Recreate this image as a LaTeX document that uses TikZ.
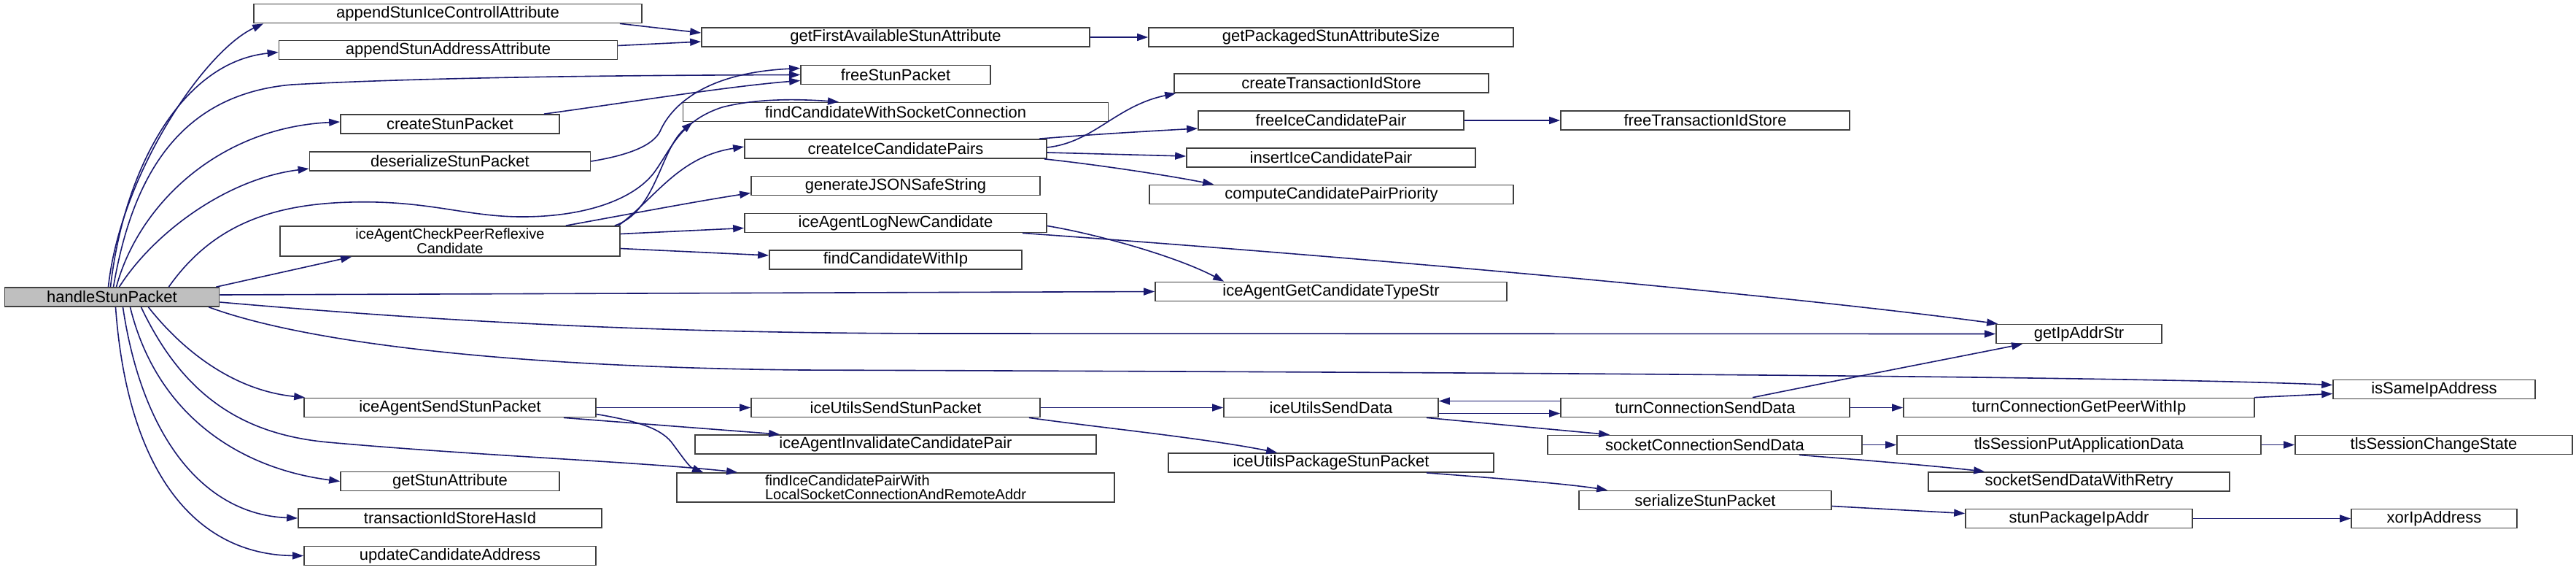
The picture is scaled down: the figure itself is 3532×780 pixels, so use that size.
\documentclass[tikz,border=0pt]{standalone}
\usepackage{fontspec}
\setmainfont{Liberation Sans}
\usetikzlibrary{arrows.meta,calc}
\definecolor{edgeblue}{HTML}{191970}
\definecolor{boxgray}{HTML}{404040}
\definecolor{mainfill}{HTML}{BFBFBF}
\begin{document}
\begin{tikzpicture}[x=1pt,y=-1pt,
  fn/.style={draw=boxgray, line width=1.7pt, fill=white, inner sep=0pt,
    minimum height=26pt, font=\fontsize{22pt}{19.5pt}\selectfont},
  fntwo/.style={fn, font=\fontsize{20pt}{19.5pt}\selectfont},
  call/.style={draw=edgeblue, line width=1.6pt, -{Triangle[length=15pt,width=10pt]}}]
\fill[white] (0,0) rectangle (3532,780);
\useasboundingbox (0,0) rectangle (3532,780);
% column 1
\node[fn,minimum width=294pt,fill=mainfill] (main) at (153.5,407) {handleStunPacket};
% column 2
\node[fn,minimum width=532pt] (appIce) at (614,18.5) {appendStunIceControllAttribute};
\node[fn,minimum width=464pt] (appAddr) at (614.5,68.5) {appendStunAddressAttribute};
\node[fn,minimum width=300pt] (createPkt) at (617,170) {createStunPacket};
\node[fn,minimum width=385pt] (deser) at (617,221) {deserializeStunPacket};
\node[fntwo,minimum width=466pt,minimum height=41pt,align=center] (checkRefl) at (617,330.5) {iceAgentCheckPeerReflexive\\Candidate};
\node[fn,minimum width=400pt] (sendPkt) at (617,558.5) {iceAgentSendStunPacket};
\node[fn,minimum width=300pt] (getAttr) at (617,659.5) {getStunAttribute};
\node[fn,minimum width=416pt] (txHas) at (617,710) {transactionIdStoreHasId};
\node[fn,minimum width=400pt] (updAddr) at (617,761.5) {updateCandidateAddress};
% column 3
\node[fn,minimum width=532pt] (getFirst) at (1228,51) {getFirstAvailableStunAttribute};
\node[fn,minimum width=260pt] (freePkt) at (1228,102.5) {freeStunPacket};
\node[fn,minimum width=583pt] (findSock) at (1228,153.5) {findCandidateWithSocketConnection};
\node[fn,minimum width=414pt] (createPair) at (1228,204) {createIceCandidatePairs};
\node[fn,minimum width=396pt] (genJson) at (1228,254.5) {generateJSONSafeString};
\node[fn,minimum width=414pt] (logNew) at (1228,305.5) {iceAgentLogNewCandidate};
\node[fn,minimum width=346pt] (findIp) at (1228,356) {findCandidateWithIp};
\node[fn,minimum width=396pt] (utilSend) at (1228,558.5) {iceUtilsSendStunPacket};
\node[fn,minimum width=550pt] (invalidate) at (1228,609) {iceAgentInvalidateCandidatePair};
\node[fntwo,minimum width=600pt,minimum height=40pt,align=left] (findPair) at (1228,668) {findIceCandidatePairWith\\LocalSocketConnectionAndRemoteAddr};
% column 4
\node[fn,minimum width=500pt] (getPkgSize) at (1825,51) {getPackagedStunAttributeSize};
\node[fn,minimum width=431pt] (createTx) at (1825.5,114) {createTransactionIdStore};
\node[fn,minimum width=364pt] (freePair) at (1825,165) {freeIceCandidatePair};
\node[fn,minimum width=396pt] (insertPair) at (1825,216) {insertIceCandidatePair};
\node[fn,minimum width=499pt] (computePrio) at (1825.5,266.5) {computeCandidatePairPriority};
\node[fn,minimum width=482pt] (getTypeStr) at (1825,399.5) {iceAgentGetCandidateTypeStr};
\node[fn,minimum width=294pt] (utilData) at (1825,558.5) {iceUtilsSendData};
\node[fn,minimum width=446pt] (utilPkg) at (1825,634) {iceUtilsPackageStunPacket};
% column 5
\node[fn,minimum width=396pt] (freeTx) at (2338,165) {freeTransactionIdStore};
\node[fn,minimum width=396pt] (turnSend) at (2338,558.5) {turnConnectionSendData};
\node[fn,minimum width=431pt] (sockSend) at (2337.5,609.5) {socketConnectionSendData};
\node[fn,minimum width=346pt] (serialize) at (2338,685.5) {serializeStunPacket};
% column 6
\node[fn,minimum width=227pt] (getIpStr) at (2850.5,457.5) {getIpAddrStr};
\node[fn,minimum width=481pt] (turnPeer) at (2850.5,558.5) {turnConnectionGetPeerWithIp};
\node[fn,minimum width=499pt] (tlsPut) at (2850.5,609.5) {tlsSessionPutApplicationData};
\node[fn,minimum width=413pt] (sockRetry) at (2850.5,660) {socketSendDataWithRetry};
\node[fn,minimum width=311pt] (stunPkgIp) at (2850.5,710.5) {stunPackageIpAddr};
% column 7
\node[fn,minimum width=277pt] (isSame) at (3337.5,533.5) {isSameIpAddress};
\node[fn,minimum width=380pt] (tlsChange) at (3337,609.5) {tlsSessionChangeState};
\node[fn,minimum width=227pt] (xorIp) at (3337.5,710.5) {xorIpAddress};

% edges from main
\draw[call] ($(main.north)+(-5,0)$) .. controls (165,240) and (280,70) .. ($(appIce.south west)+(14,0)$);
\draw[call] ($(main.north)+(-2,0)$) .. controls (170,230) and (250,85) .. ($(appAddr.west)+(0,3)$);
\draw[call] ($(main.north)+(2,0)$) .. controls (180,250) and (240,130) .. (400,116) .. controls (600,105) and (900,103) .. (freePkt.west);
\draw[call] ($(main.north)+(6,0)$) .. controls (190,280) and (300,175) .. ($(createPkt.west)+(0,-3)$);
\draw[call] ($(main.north)+(10,0)$) .. controls (210,320) and (310,245) .. ($(deser.west)+(0,10)$);
\draw[call] ($(main.north east)+(-70,0)$) .. controls (290,310) and (370,280) .. (480,277)
   .. controls (590,274) and (640,298) .. (721,297) .. controls (810,296) and (875,270) .. (900,232)
   .. controls (922,200) and (935,165) .. (990,147) .. controls (1040,134) and (1100,136) .. ($(findSock.north)+(-78,0)$);
\draw[call] ($(main.north east)+(-5,0)$) -- ($(checkRefl.south west)+(99,0)$);
\draw[call] ($(main.east)+(0,-3)$) -- (getTypeStr.west);
\draw[call] ($(main.east)+(0,7)$) .. controls (600,440) and (900,457) .. (1300,457) -- (getIpStr.west);
\draw[call] ($(main.south east)+(-15,0)$) .. controls (420,470) and (700,503) .. (1100,507)
   .. controls (2000,510) and (2900,515) .. ($(isSame.west)+(0,-6)$);
\draw[call] ($(main.south)+(50,0)$) .. controls (250,480) and (320,535) .. ($(sendPkt.north west)+(2,0)$);
\draw[call] ($(main.south)+(40,0)$) .. controls (250,540) and (330,595) .. (450,606)
   .. controls (650,624) and (880,633) .. ($(findPair.north west)+(84,0)$);
\draw[call] ($(main.south)+(25,0)$) .. controls (215,570) and (330,642) .. (getAttr.west);
\draw[call] ($(main.south)+(15,0)$) .. controls (195,600) and (280,705) .. (txHas.west);
\draw[call] ($(main.south)+(5,0)$) .. controls (175,650) and (270,760) .. (updAddr.west);
% column 2 edges
\draw[call] ($(appIce.south east)+(-31,0)$) -- ($(getFirst.west)+(0,-6)$);
\draw[call] ($(appAddr.east)+(0,-6)$) -- ($(getFirst.west)+(0,6)$);
\draw[call] (getFirst.east) -- (getPkgSize.west);
\draw[call] ($(createPkt.north east)+(-22,0)$) .. controls (850,142) and (1000,118) .. ($(freePkt.west)+(0,8)$);
\draw[call] (deser.east) .. controls (860,213) and (895,200) .. (905,180) .. controls (918,150) and (960,100) .. ($(freePkt.west)+(0,-9)$);
\draw[call] ($(checkRefl.north east)+(-8,0)$) .. controls (900,290) and (905,205) .. ($(findSock.south west)+(14,0)$);
\draw[call] ($(checkRefl.north east)+(-3,0)$) .. controls (900,270) and (930,215) .. ($(createPair.west)+(0,-3)$);
\draw[call] ($(checkRefl.north east)+(-75,0)$) .. controls (870,292) and (960,275) .. ($(genJson.west)+(0,10)$);
\draw[call] ($(checkRefl.east)+(0,-10)$) -- ($(logNew.west)+(0,7)$);
\draw[call] ($(checkRefl.east)+(0,10)$) -- ($(findIp.west)+(0,-6)$);
\draw[call] (sendPkt.east) -- (utilSend.west);
\draw[call] ($(sendPkt.south east)+(-45,0)$) -- ($(invalidate.north west)+(117,0)$);
\draw[call] ($(sendPkt.east)+(0,9)$) .. controls (880,578) and (905,588) .. (920,605) .. controls (935,625) and (945,640) .. ($(findPair.north west)+(37,0)$);
% column 3 edges
\draw[call] ($(createPair.east)+(0,-2)$) .. controls (1500,195) and (1530,145) .. ($(createTx.south west)+(3,0)$);
\draw[call] ($(createPair.north east)+(-11,0)$) .. controls (1500,184) and (1570,180) .. ($(freePair.west)+(0,11)$);
\draw[call] ($(createPair.east)+(0,5)$) -- ($(insertPair.west)+(0,-2)$);
\draw[call] ($(createPair.south east)+(-4,0)$) .. controls (1500,225) and (1600,240) .. ($(computePrio.north west)+(89,0)$);
\draw[call] (freePair.east) -- (freeTx.west);
\draw[call] ($(logNew.east)+(0,4)$) .. controls (1500,320) and (1610,350) .. ($(getTypeStr.north west)+(95,0)$);
\draw[call] ($(logNew.south east)+(-34,0)$) .. controls (1900,355) and (2450,405) .. ($(getIpStr.north west)+(3,0)$);
\draw[call] (utilSend.east) -- (utilData.west);
\draw[call] ($(utilSend.south east)+(-16,0)$) .. controls (1500,585) and (1650,600) .. ($(utilPkg.north west)+(150,0)$);
% column 4+ edges
\draw[call] ($(utilData.east)+(0,8)$) -- ($(turnSend.west)+(0,8)$);
\draw[call] ($(turnSend.west)+(0,-9)$) -- ($(utilData.east)+(0,-9)$);
\draw[call] ($(utilData.south east)+(-17,0)$) -- ($(sockSend.north west)+(86,0)$);
\draw[call] (turnSend.east) -- (turnPeer.west);
\draw[call] ($(turnSend.north)+(65,0)$) .. controls (2550,515) and (2680,490) .. ($(getIpStr.south west)+(37,0)$);
\draw[call] ($(turnPeer.north east)+(-1,0)$) -- ($(isSame.west)+(0,6)$);
\draw[call] (sockSend.east) -- (tlsPut.west);
\draw[call] ($(sockSend.south east)+(-87,0)$) .. controls (2550,630) and (2650,638) .. ($(sockRetry.north west)+(78,0)$);
\draw[call] (tlsPut.east) -- (tlsChange.west);
\draw[call] ($(utilPkg.south east)+(-93,0)$) .. controls (2050,655) and (2150,663) .. ($(serialize.north west)+(40,0)$);
\draw[call] ($(serialize.east)+(0,8)$) -- ($(stunPkgIp.west)+(0,-7)$);
\draw[call] (stunPkgIp.east) -- (xorIp.west);
\end{tikzpicture}
\end{document}
